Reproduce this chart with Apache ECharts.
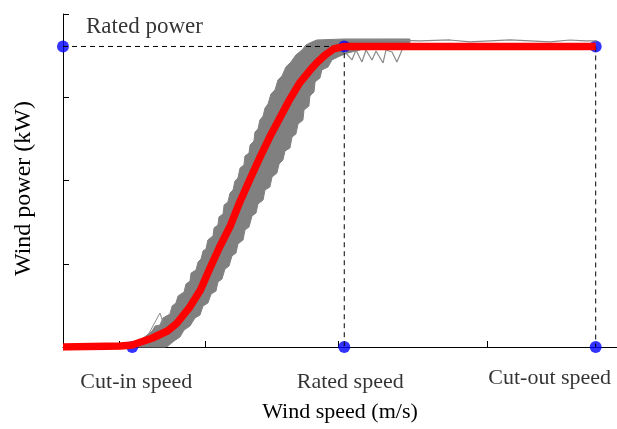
<!DOCTYPE html>
<html>
<head>
<meta charset="utf-8">
<script src="https://cdn.jsdelivr.net/npm/echarts@6/dist/echarts.min.js"></script>
<style>
  html, body { margin: 0; padding: 0; background: #fff; }
  #chart { width: 617px; height: 429px; }
</style>
</head>
<body>
<div id="chart"></div>
<script>
// Wind turbine power curve: idealised curve (red), measured scatter band (grey)
const ratedPower = 1805;          // kW
const cutInSpeed = 3.25;          // m/s
const ratedSpeed = 13.2;          // m/s
const cutOutSpeed = 25;           // m/s

// Fitted power curve
const curveSpeed = [0, 2.7, 3.25, 4.2, 4.9, 5.35, 5.95, 6.45, 6.9, 7.35, 7.85, 8.3, 8.8, 9.25, 9.7, 10.2, 10.65, 11.1, 11.6, 11.9, 12.3, 12.7, 13.2, 25];
const curvePower = [0, 6, 12, 54, 96, 144, 240, 342, 474, 601, 727, 871, 1015, 1141, 1261, 1381, 1489, 1585, 1663, 1706, 1754, 1790, 1805, 1805];

// Measured data envelope: upper/left edge, low speed to high speed
const bandUpperSpeed = [3.05, 3.52, 3.89, 4.18, 4.32, 4.55, 4.69, 5.02, 5.12, 5.30, 5.40, 5.68, 5.77, 5.96, 6.01, 6.24, 6.34, 6.48, 6.57, 6.71, 6.80, 7.04, 7.09, 7.27, 7.32, 7.51, 7.56, 7.74, 7.84, 7.98, 8.07, 8.21, 8.31, 8.49, 8.54, 8.73, 8.78, 8.96, 9.01, 9.15, 9.24, 9.39, 9.48, 9.62, 9.76, 9.95, 10.09, 10.28, 10.46, 10.70, 10.93, 11.22, 11.40, 11.68, 11.92, 13.23, 16.28];
const bandUpperPower = [0, 30, 66, 96, 126, 132, 174, 198, 246, 264, 306, 330, 378, 396, 444, 462, 511, 529, 577, 589, 643, 667, 715, 733, 781, 799, 853, 871, 925, 943, 997, 1015, 1075, 1093, 1147, 1165, 1213, 1237, 1291, 1309, 1363, 1387, 1435, 1459, 1520, 1544, 1604, 1628, 1682, 1712, 1754, 1784, 1814, 1832, 1844, 1850, 1850];
// Measured data envelope: lower/right edge, high speed back to low speed
const bandLowerSpeed = [16.28, 14.88, 13.37, 13.0, 12.62, 12.44, 12.15, 12.06, 11.83, 11.78, 11.59, 11.54, 11.31, 11.26, 11.03, 10.93, 10.75, 10.65, 10.42, 10.32, 10.14, 10.04, 9.81, 9.71, 9.48, 9.39, 9.15, 9.06, 8.87, 8.73, 8.54, 8.45, 8.21, 8.12, 7.93, 7.79, 7.60, 7.46, 7.27, 7.18, 6.95, 6.80, 6.57, 6.43, 6.19, 5.96, 5.68, 5.49, 5.21, 4.93, 4.79];
const bandLowerPower = [1826, 1814, 1766, 1748, 1724, 1682, 1664, 1616, 1592, 1532, 1508, 1447, 1423, 1363, 1339, 1279, 1261, 1195, 1177, 1123, 1099, 1045, 1021, 961, 943, 883, 859, 805, 787, 721, 703, 643, 619, 565, 547, 486, 468, 408, 390, 336, 318, 264, 246, 192, 174, 126, 102, 60, 36, 6, 0];

// Stray measured traces
const topTraceSpeed = [13.23, 14.88, 16.75, 18.16, 19.10, 20.04, 20.98, 21.91, 22.85, 23.79, 24.50, 25.06];
const topTracePower = [1844, 1844, 1838, 1844, 1832, 1838, 1844, 1838, 1832, 1844, 1838, 1838];
const zigSpeed = [13.23, 13.56, 13.75, 14.03, 14.22, 14.50, 14.69, 15.02, 15.16, 15.44, 15.67, 15.91];
const zigPower = [1772, 1724, 1784, 1712, 1784, 1724, 1778, 1706, 1784, 1772, 1712, 1784];
const lowTraceSpeed = [3.99, 4.55, 4.69, 4.32];
const lowTracePower = [72, 204, 150, 102];

// Axis settings
const xTicks = [2.63, 6.66, 12.9, 19.9];
const speedMax = 26;
const powerMax = 2000;
const powerStep = 500;

const pairs = (xs, ys) => xs.map((x, i) => [x, ys[i]]);

const FONT = '"Liberation Serif", "Times New Roman", serif';
const chart = echarts.init(document.getElementById('chart'), null, { renderer: 'canvas' });

const bandPolygon = pairs(bandUpperSpeed, bandUpperPower).concat(pairs(bandLowerSpeed, bandLowerPower));

const option = {
  animation: false,
  grid: { left: 63, right: 0, top: 14, bottom: 82, containLabel: false },
  xAxis: {
    type: 'value', min: 0, max: speedMax,
    name: 'Wind speed (m/s)', nameLocation: 'middle', nameGap: 54,
    nameTextStyle: { fontFamily: FONT, fontSize: 22, color: '#000' },
    axisLine: { show: true, lineStyle: { color: '#000', width: 1 } },
    axisTick: { show: true, inside: true, length: 6, customValues: xTicks, lineStyle: { color: '#000' } },
    axisLabel: { show: false },
    splitLine: { show: false }
  },
  yAxis: {
    type: 'value', min: 0, max: powerMax, interval: powerStep,
    name: 'Wind power (kW)', nameLocation: 'middle', nameGap: 27, nameRotate: 90,
    nameTextStyle: { fontFamily: FONT, fontSize: 24, color: '#000', padding: [0, 16, 0, 0] },
    axisLine: { show: true, lineStyle: { color: '#000', width: 1 } },
    axisTick: { show: true, inside: true, length: 6, lineStyle: { color: '#000' } },
    axisLabel: { show: false },
    splitLine: { show: false }
  },
  series: [
    {
      type: 'line', symbol: 'none', silent: true,
      data: [[0, ratedPower], [ratedSpeed, ratedPower], [ratedSpeed, 0]],
      lineStyle: { color: '#000', width: 1, type: [5, 4] }
    },
    {
      type: 'line', symbol: 'none', silent: true,
      data: [[cutOutSpeed, ratedPower], [cutOutSpeed, 0]],
      lineStyle: { color: '#000', width: 1, type: [5, 4] }
    },
    {
      type: 'custom', silent: true,
      data: [0],
      renderItem: function (params, api) {
        const pts = bandPolygon.map(p => api.coord(p));
        return { type: 'polygon', shape: { points: pts }, style: { fill: '#808080', stroke: '#808080', lineWidth: 1 } };
      }
    },
    {
      type: 'line', symbol: 'none', silent: true,
      data: pairs(topTraceSpeed, topTracePower),
      lineStyle: { color: '#8a8a8a', width: 1.2 }
    },
    {
      type: 'line', symbol: 'none', silent: true,
      data: pairs(zigSpeed, zigPower),
      lineStyle: { color: '#8a8a8a', width: 1.2 }
    },
    {
      type: 'line', symbol: 'none', silent: true,
      data: pairs(lowTraceSpeed, lowTracePower),
      lineStyle: { color: '#8a8a8a', width: 1 }
    },
    {
      type: 'line', symbol: 'none', silent: true,
      data: pairs(curveSpeed, curvePower),
      lineStyle: { color: '#ff0000', width: 7.5, cap: 'butt', join: 'round' }
    },
    {
      type: 'scatter', symbol: 'circle', symbolSize: 12, silent: true,
      itemStyle: { color: '#0000ff' },
      label: { show: true, fontFamily: FONT, fontSize: 22, color: '#000' },
      data: [
        { value: [0, ratedPower], label: { formatter: 'Rated power', position: [29, -25], fontSize: 23 } },
        { value: [cutInSpeed, 0], label: { formatter: 'Cut-in speed', position: 'bottom', distance: 18, offset: [4, 0] } },
        { value: [ratedSpeed, ratedPower], label: { show: false } },
        { value: [ratedSpeed, 0], label: { formatter: 'Rated speed', position: 'bottom', distance: 18, offset: [6, 0] } },
        { value: [cutOutSpeed, ratedPower], label: { show: false } },
        { value: [cutOutSpeed, 0], label: { formatter: 'Cut-out speed', position: 'bottom', distance: 14, offset: [-46, 0] } }
      ]
    }
  ]
};
chart.setOption(option);
</script>
</body>
</html>
